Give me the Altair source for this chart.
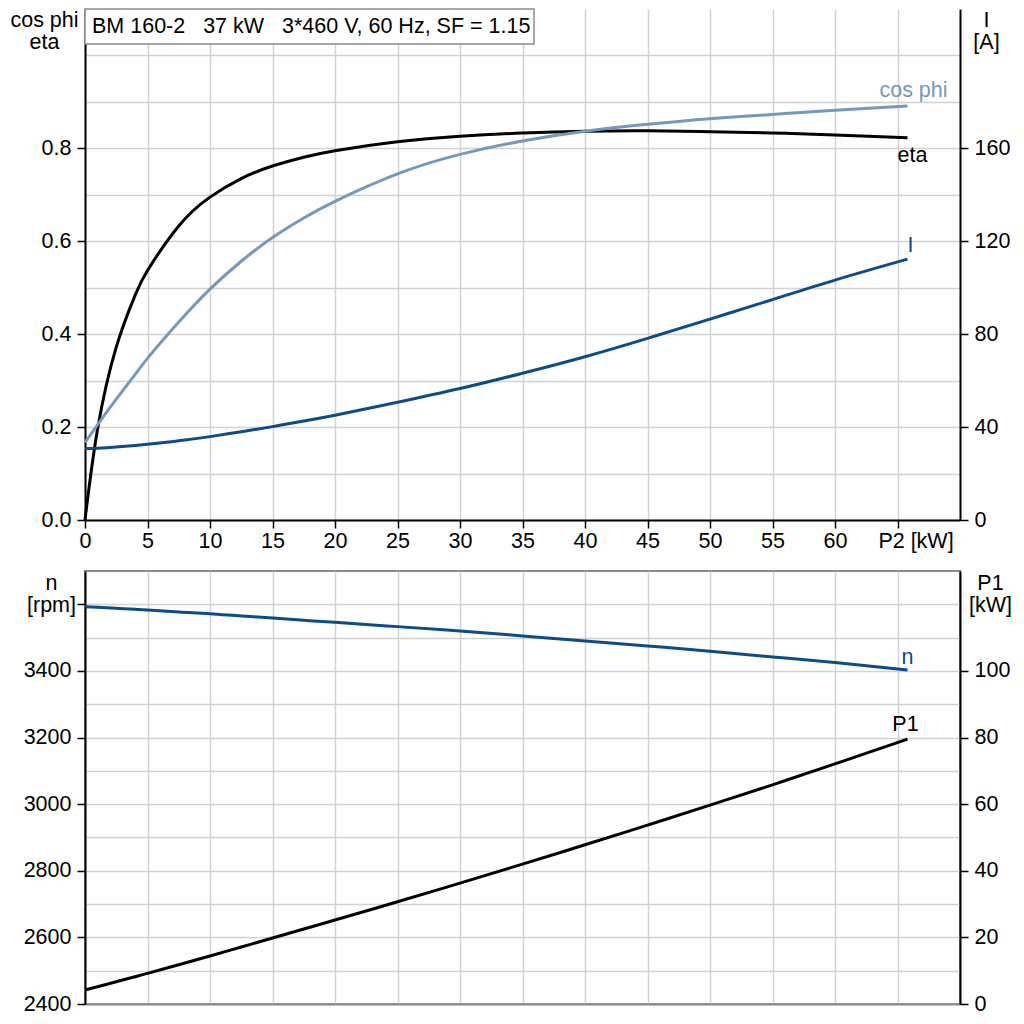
import altair as alt
import pandas as pd

# ---------------- data ----------------
p2 = [0, 1, 2.5, 4, 5, 7.5, 10, 12.5, 15, 17.5, 20, 25, 30, 35, 40, 45, 50, 55, 60, 65.8]
eta = [0.0, 0.195, 0.372, 0.483, 0.537, 0.633, 0.695, 0.735, 0.762, 0.781, 0.795,
       0.814, 0.826, 0.833, 0.837, 0.838, 0.836, 0.833, 0.829, 0.823]
cos_phi = [0.167, 0.205, 0.26, 0.313, 0.348, 0.426, 0.497, 0.557, 0.608, 0.65, 0.686,
           0.745, 0.787, 0.816, 0.837, 0.852, 0.864, 0.873, 0.882, 0.891]
current = [30.8, 30.9, 31.4, 32.1, 32.6, 34.1, 35.9, 38.0, 40.2, 42.6, 45.1, 50.7,
           56.6, 63.2, 70.3, 78.2, 86.5, 94.9, 103.3, 112.3]
speed = [3593, 3591, 3588, 3585, 3583, 3577, 3572, 3565, 3559, 3552, 3546, 3533,
         3520, 3505, 3490, 3475, 3459, 3442, 3425, 3403]
p1 = [4.2, 5.2, 6.7, 8.2, 9.2, 11.8, 14.4, 17.1, 19.8, 22.5, 25.2, 30.7, 36.3,
      42.0, 47.8, 53.7, 59.7, 65.8, 72.1, 79.5]

series_names = ["eta", "cos phi", "I", "n", "P1"]
series_colors = ["#000000", "#7399BD", "#0B4C89", "#0B4C89", "#000000"]

title_text = "BM 160-2\u00a0\u00a0\u00a037 kW\u00a0\u00a0\u00a03*460 V, 60 Hz, SF = 1.15"
x_ticks = [0, 5, 10, 15, 20, 25, 30, 35, 40, 45, 50, 55, 60, 65]
x_axis_last_label = "P2 [kW]"

rows = []
for name, arr in zip(series_names, [eta, cos_phi, current, speed, p1]):
    for xv, yv in zip(p2, arr):
        rows.append({"p2": xv, "series": name, "value": yv})
df = pd.DataFrame(rows)

# ---------------- styling ----------------
FONT = "Liberation Sans"
FS = 21.5
GRID = "#d2d2d2"
W = 875
H_TOP = 511
H_BOT = 433
TICK = 8
LPAD = 6

COLOR = alt.Color("series:N", legend=None,
                  scale=alt.Scale(domain=series_names, range=series_colors))

X_TOP = alt.X("p2:Q", scale=alt.Scale(domain=[0, 70], nice=False, zero=False),
              axis=alt.Axis(values=x_ticks, title=None, grid=True, gridColor=GRID,
                            gridWidth=1.5, domainColor="black", domainWidth=2,
                            tickColor="black", tickSize=TICK, tickWidth=1.5,
                            labelFontSize=FS, labelColor="black", labelPadding=2,
                            labelFlush=False,
                            labelExpr=f"datum.value == 65 ? '{x_axis_last_label}' : datum.label",
                            labelOffset={"condition": {"test": "datum.value == 65", "value": 18},
                                         "value": 0}))

X_BOT = alt.X("p2:Q", scale=alt.Scale(domain=[0, 70], nice=False, zero=False),
              axis=alt.Axis(values=x_ticks, title=None, grid=True, gridColor=GRID,
                            gridWidth=1.5, domainColor="#8a8a8a", domainWidth=2,
                            ticks=False, labels=False))

even_tenth = "round(datum.value*10) % 2 == 0 && datum.value < 0.85"
Y_LEFT_TOP = alt.Y("value:Q", scale=alt.Scale(domain=[0, 1.1], nice=False),
                   axis=alt.Axis(values=[round(0.1 * i, 1) for i in range(0, 11)],
                                 grid=True, gridColor=GRID, gridWidth=1.5,
                                 domainColor="black", domainWidth=2,
                                 tickColor="black", tickSize=TICK, tickWidth=1.5,
                                 tickOpacity={"condition": {"test": even_tenth, "value": 1}, "value": 0},
                                 labelExpr=f"({even_tenth}) ? format(datum.value, '.1f') : ''",
                                 labelFontSize=FS, labelColor="black", labelPadding=LPAD,
                                 title=["cos phi", "eta"], titleAngle=0, titleAlign="center",
                                 titleBaseline="top", titleX=-41, titleY=0,
                                 titleFontSize=FS, titleFontWeight="normal",
                                 titleLineHeight=22, titleColor="black"))

Y_RIGHT_TOP = alt.Y("value:Q", scale=alt.Scale(domain=[0, 220], nice=False),
                    axis=alt.Axis(orient="right", values=[0, 40, 80, 120, 160], grid=False,
                                  domainColor="black", domainWidth=2,
                                  tickColor="black", tickSize=TICK, tickWidth=1.5,
                                  labelFontSize=FS, labelColor="black", labelPadding=LPAD,
                                  title=["I", "[A]"], titleAngle=0, titleAlign="center",
                                  titleBaseline="top", titleX=26, titleY=0,
                                  titleFontSize=FS, titleFontWeight="normal",
                                  titleLineHeight=22, titleColor="black"))

n_grid = list(range(2400, 3700, 100))
Y_LEFT_BOT = alt.Y("value:Q", scale=alt.Scale(domain=[2400, 3700], nice=False, zero=False),
                   axis=alt.Axis(values=n_grid, grid=True, gridColor=GRID, gridWidth=1.5,
                                 domainColor="black", domainWidth=2,
                                 tickColor="black", tickSize=TICK, tickWidth=1.5,
                                 tickOpacity={"condition": {"test": "datum.value % 200 == 0", "value": 1},
                                              "value": 0},
                                 labelExpr="(datum.value % 200 == 0 && datum.value < 3500) ? datum.value : ''",
                                 labelFontSize=FS, labelColor="black", labelPadding=LPAD,
                                 title=["n", "[rpm]"], titleAngle=0, titleAlign="center",
                                 titleBaseline="top", titleX=-34, titleY=1,
                                 titleFontSize=FS, titleFontWeight="normal",
                                 titleLineHeight=22, titleColor="black"))

Y_RIGHT_BOT = alt.Y("value:Q", scale=alt.Scale(domain=[0, 130], nice=False),
                    axis=alt.Axis(orient="right", values=[0, 20, 40, 60, 80, 100], grid=False,
                                  domainColor="black", domainWidth=2,
                                  tickColor="black", tickSize=TICK, tickWidth=1.5,
                                  labelFontSize=FS, labelColor="black", labelPadding=LPAD,
                                  title=["P1", "[kW]"], titleAngle=0, titleAlign="center",
                                  titleBaseline="top", titleX=30, titleY=1,
                                  titleFontSize=FS, titleFontWeight="normal",
                                  titleLineHeight=22, titleColor="black"))


def line(names, x_enc, y_enc):
    return (alt.Chart(df)
            .transform_filter(alt.FieldOneOfPredicate(field="series", oneOf=names))
            .mark_line(strokeWidth=3, interpolate="natural")
            .encode(x=x_enc, y=y_enc, color=COLOR))


def end_label(name, x_enc, y_enc, dx, dy, baseline="alphabetic"):
    return (alt.Chart(df)
            .transform_filter(alt.FieldEqualPredicate(field="series", equal=name))
            .transform_joinaggregate(maxp="max(p2)")
            .transform_filter("datum.p2 == datum.maxp")
            .mark_text(text=name, dx=dx, dy=dy, fontSize=FS, font=FONT,
                       align="center", baseline=baseline)
            .encode(x=x_enc, y=y_enc, color=COLOR))


top_left = alt.layer(
    line(["cos phi", "eta"], X_TOP, Y_LEFT_TOP),
    end_label("cos phi", X_TOP, Y_LEFT_TOP, 6, -9),
    end_label("eta", X_TOP, Y_LEFT_TOP, 5, 7, baseline="top"),
)
top_right = alt.layer(
    line(["I"], X_TOP, Y_RIGHT_TOP),
    end_label("I", X_TOP, Y_RIGHT_TOP, 3, -7),
)
box = alt.Chart(pd.DataFrame({"t": [title_text]})).mark_rect(
    fill="white", stroke="#8a8a8a", strokeWidth=1.5
).encode(x=alt.value(0), x2=alt.value(449), y=alt.value(0), y2=alt.value(35))
box_text = alt.Chart(pd.DataFrame({"t": [title_text]})).mark_text(
    align="left", baseline="middle", fontSize=FS, font=FONT, color="black"
).encode(x=alt.value(7), y=alt.value(18), text="t:N")

top = alt.layer(top_left, top_right, box, box_text).resolve_scale(y="independent").properties(
    width=W, height=H_TOP)

bot_left = alt.layer(
    line(["n"], X_BOT, Y_LEFT_BOT),
    end_label("n", X_BOT, Y_LEFT_BOT, 0, -6),
)
bot_right = alt.layer(
    line(["P1"], X_BOT, Y_RIGHT_BOT),
    end_label("P1", X_BOT, Y_RIGHT_BOT, -2, -8),
)
bottom = alt.layer(bot_left, bot_right).resolve_scale(y="independent").properties(
    width=W, height=H_BOT, view=alt.ViewBackground(stroke="#8a8a8a", strokeWidth=2))

chart = (alt.vconcat(top, bottom, spacing=51, bounds="flush")
         .properties(padding={"left": 1, "top": 0, "right": 0, "bottom": 0})
         .configure_view(stroke=None)
         .configure_axis(labelFont=FONT, titleFont=FONT)
         .configure_text(font=FONT))

chart.save("out.html", embed_options={"renderer": "svg", "actions": False})
